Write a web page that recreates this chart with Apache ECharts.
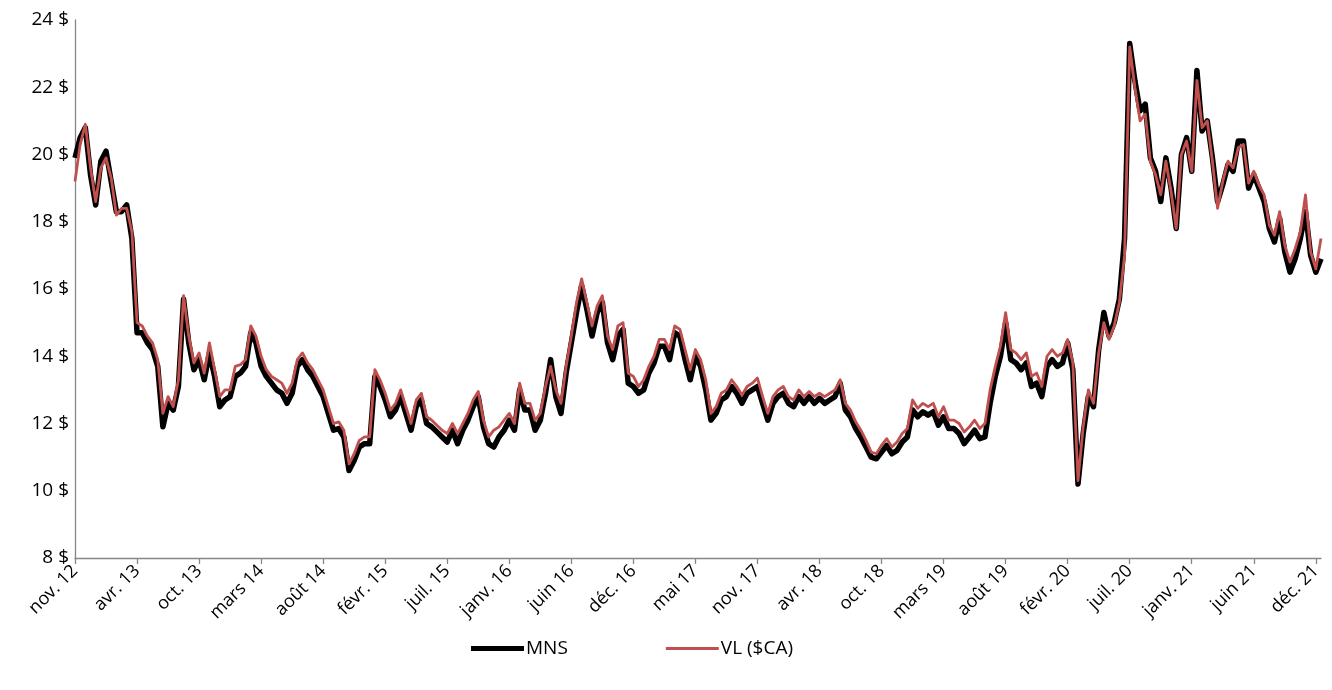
<!DOCTYPE html>
<html>
<head>
<meta charset="utf-8">
<script src="https://cdn.jsdelivr.net/npm/echarts@6/dist/echarts.min.js"></script>
<style>
html,body{margin:0;padding:0;background:#fff;}
#chart{width:1332px;height:690px;}
</style>
</head>
<body>
<div id="chart"></div>
<script>
// x-axis tick labels, one every 12 samples
var tickLabels = ['nov. 12','avr. 13','oct. 13','mars 14','août 14','févr. 15','juil. 15','janv. 16','juin 16','déc. 16','mai 17','nov. 17','avr. 18','oct. 18','mars 19','août 19','févr. 20','juil. 20','janv. 21','juin 21','déc. 21'];
var samplesPerTick = 12;

// MNS (market price)
var mns = [
19.9,20.5,20.8,19.4,18.5,19.8,20.1,19.2,18.3,18.3,18.5,17.5,
14.7,14.7,14.4,14.2,13.7,11.9,12.6,12.4,13.1,15.7,14.4,13.6,
13.9,13.3,14.1,13.4,12.5,12.7,12.8,13.4,13.5,13.7,14.7,14.4,
13.7,13.4,13.2,13.0,12.9,12.6,12.9,13.7,13.9,13.6,13.4,13.1,
12.8,12.3,11.8,11.85,11.6,10.6,10.9,11.3,11.4,11.4,13.4,13.1,
12.7,12.2,12.4,12.8,12.3,11.8,12.5,12.7,12.0,11.9,11.75,11.6,
11.45,11.8,11.4,11.8,12.1,12.5,12.8,11.9,11.4,11.3,11.6,11.8,
12.1,11.8,13.0,12.4,12.4,11.8,12.1,12.9,13.9,12.8,12.3,13.5,
14.4,15.3,16.1,15.4,14.6,15.3,15.6,14.4,13.9,14.6,14.8,13.2,
13.1,12.9,13.0,13.5,13.8,14.3,14.3,13.9,14.7,14.6,13.9,13.3,
14.0,13.7,13.0,12.1,12.3,12.7,12.8,13.1,12.9,12.6,12.9,13.0,
13.1,12.6,12.1,12.6,12.8,12.9,12.6,12.5,12.8,12.6,12.8,12.6,
12.75,12.6,12.7,12.8,13.2,12.4,12.2,11.85,11.6,11.3,11.0,10.95,
11.15,11.35,11.1,11.2,11.45,11.6,12.4,12.2,12.35,12.25,12.35,11.95,
12.2,11.85,11.85,11.7,11.4,11.6,11.8,11.55,11.6,12.6,13.4,14.0,
15.0,13.9,13.8,13.6,13.8,13.1,13.2,12.8,13.7,13.9,13.7,13.8,
14.4,13.6,10.2,11.7,12.8,12.5,14.2,15.3,14.6,15.0,15.7,17.5,
23.3,22.2,21.3,21.5,19.9,19.5,18.6,19.9,19.0,17.8,20.0,20.5,
19.5,22.5,20.7,21.0,19.9,18.6,19.1,19.7,19.5,20.4,20.4,19.0,
19.4,19.0,18.6,17.8,17.4,18.1,17.1,16.5,16.9,17.5,18.3,17.0,
16.5,16.9
];

// VL ($CA) (net asset value)
var vl = [
19.2,20.3,20.9,19.6,18.6,19.6,19.9,19.3,18.2,18.4,18.4,17.7,
15.0,14.9,14.6,14.4,13.9,12.3,12.8,12.5,13.3,15.8,14.6,13.8,
14.1,13.5,14.4,13.6,12.8,13.0,13.0,13.7,13.75,13.9,14.9,14.6,
14.0,13.6,13.4,13.3,13.2,12.9,13.2,13.9,14.1,13.8,13.6,13.3,
13.0,12.5,12.0,12.05,11.8,10.8,11.1,11.5,11.6,11.6,13.6,13.3,
12.9,12.4,12.6,13.0,12.5,12.0,12.7,12.9,12.2,12.1,11.95,11.8,
11.7,12.0,11.7,12.0,12.3,12.7,12.95,12.1,11.6,11.8,11.9,12.1,
12.3,12.0,13.2,12.6,12.6,12.1,12.3,13.1,13.7,13.0,12.6,13.7,
14.6,15.6,16.3,15.6,14.9,15.5,15.8,14.6,14.2,14.9,15.0,13.5,
13.4,13.1,13.3,13.7,14.0,14.5,14.5,14.2,14.9,14.8,14.2,13.6,
14.2,13.9,13.3,12.3,12.5,12.9,13.0,13.3,13.1,12.85,13.1,13.2,
13.35,12.8,12.3,12.8,13.0,13.1,12.8,12.7,13.0,12.8,12.95,12.8,
12.9,12.8,12.9,13.0,13.3,12.6,12.4,12.05,11.8,11.5,11.15,11.1,
11.35,11.55,11.3,11.45,11.7,11.85,12.7,12.45,12.6,12.5,12.6,12.2,
12.5,12.1,12.1,12.0,11.75,11.9,12.1,11.85,12.0,13.0,13.7,14.3,
15.3,14.2,14.1,13.9,14.1,13.4,13.5,13.1,14.0,14.2,14.0,14.1,
14.5,13.8,10.3,11.9,13.0,12.6,14.1,15.0,14.5,14.9,15.6,17.0,
23.2,22.0,21.0,21.2,19.8,19.4,18.8,19.8,18.9,17.8,20.0,20.4,
19.5,22.2,20.8,21.0,19.8,18.4,19.2,19.8,19.6,20.2,20.3,19.15,
19.5,19.1,18.8,17.9,17.6,18.3,17.3,16.8,17.2,17.7,18.8,17.1,
16.6,17.5
];

var categories = mns.map(function (_, i) { return i; });

var chart = echarts.init(document.getElementById('chart'), null, {renderer: 'canvas'});
var font = 'Open Sans';
chart.setOption({
  animation: false,
  backgroundColor: '#ffffff',
  grid: {left: 75, right: 11, top: 20, bottom: 132, containLabel: false},
  legend: {
    left: 466, top: 634,
    itemWidth: 53, itemHeight: 14, itemGap: 98,
    symbolKeepAspect: true,
    itemStyle: {borderWidth: 0},
    textStyle: {fontFamily: font, fontSize: 19, color: '#000', padding: [0, 0, 0, -3]},
    data: [
      {name: 'MNS', icon: 'path://M0,0H53V5H0Z'},
      {name: 'VL ($CA)', icon: 'path://M0,0H53V3H0Z'}
    ]
  },
  xAxis: {
    type: 'category',
    data: categories,
    boundaryGap: false,
    axisLine: {lineStyle: {color: '#868686', width: 1.3}},
    axisTick: {show: true, interval: samplesPerTick - 1, length: 6, lineStyle: {color: '#868686', width: 1.3}},
    axisLabel: {
      interval: samplesPerTick - 1,
      rotate: 45,
      margin: 10,
      fontFamily: font, fontSize: 18, color: '#000',
      formatter: function (v) {
        var i = Number(v);
        return (i % samplesPerTick === 0) ? (tickLabels[i / samplesPerTick] || '') : '';
      }
    },
    splitLine: {show: false}
  },
  yAxis: {
    type: 'value',
    min: 8, max: 24, interval: 2,
    axisLine: {show: true, lineStyle: {color: '#868686', width: 1.3}},
    axisTick: {show: false},
    splitLine: {show: false},
    axisLabel: {fontFamily: font, fontSize: 19, color: '#000', margin: 6, formatter: '{value} $'}
  },
  series: [
    {
      name: 'MNS', type: 'line', data: mns, symbol: 'none', smooth: false,
      lineStyle: {color: '#000000', width: 5.5, join: 'round'},
      itemStyle: {color: '#000000'}, z: 2
    },
    {
      name: 'VL ($CA)', type: 'line', data: vl, symbol: 'none', smooth: false,
      lineStyle: {color: '#C0504D', width: 2.8, join: 'round'},
      itemStyle: {color: '#C0504D'}, z: 3
    }
  ]
});
</script>
</body>
</html>
